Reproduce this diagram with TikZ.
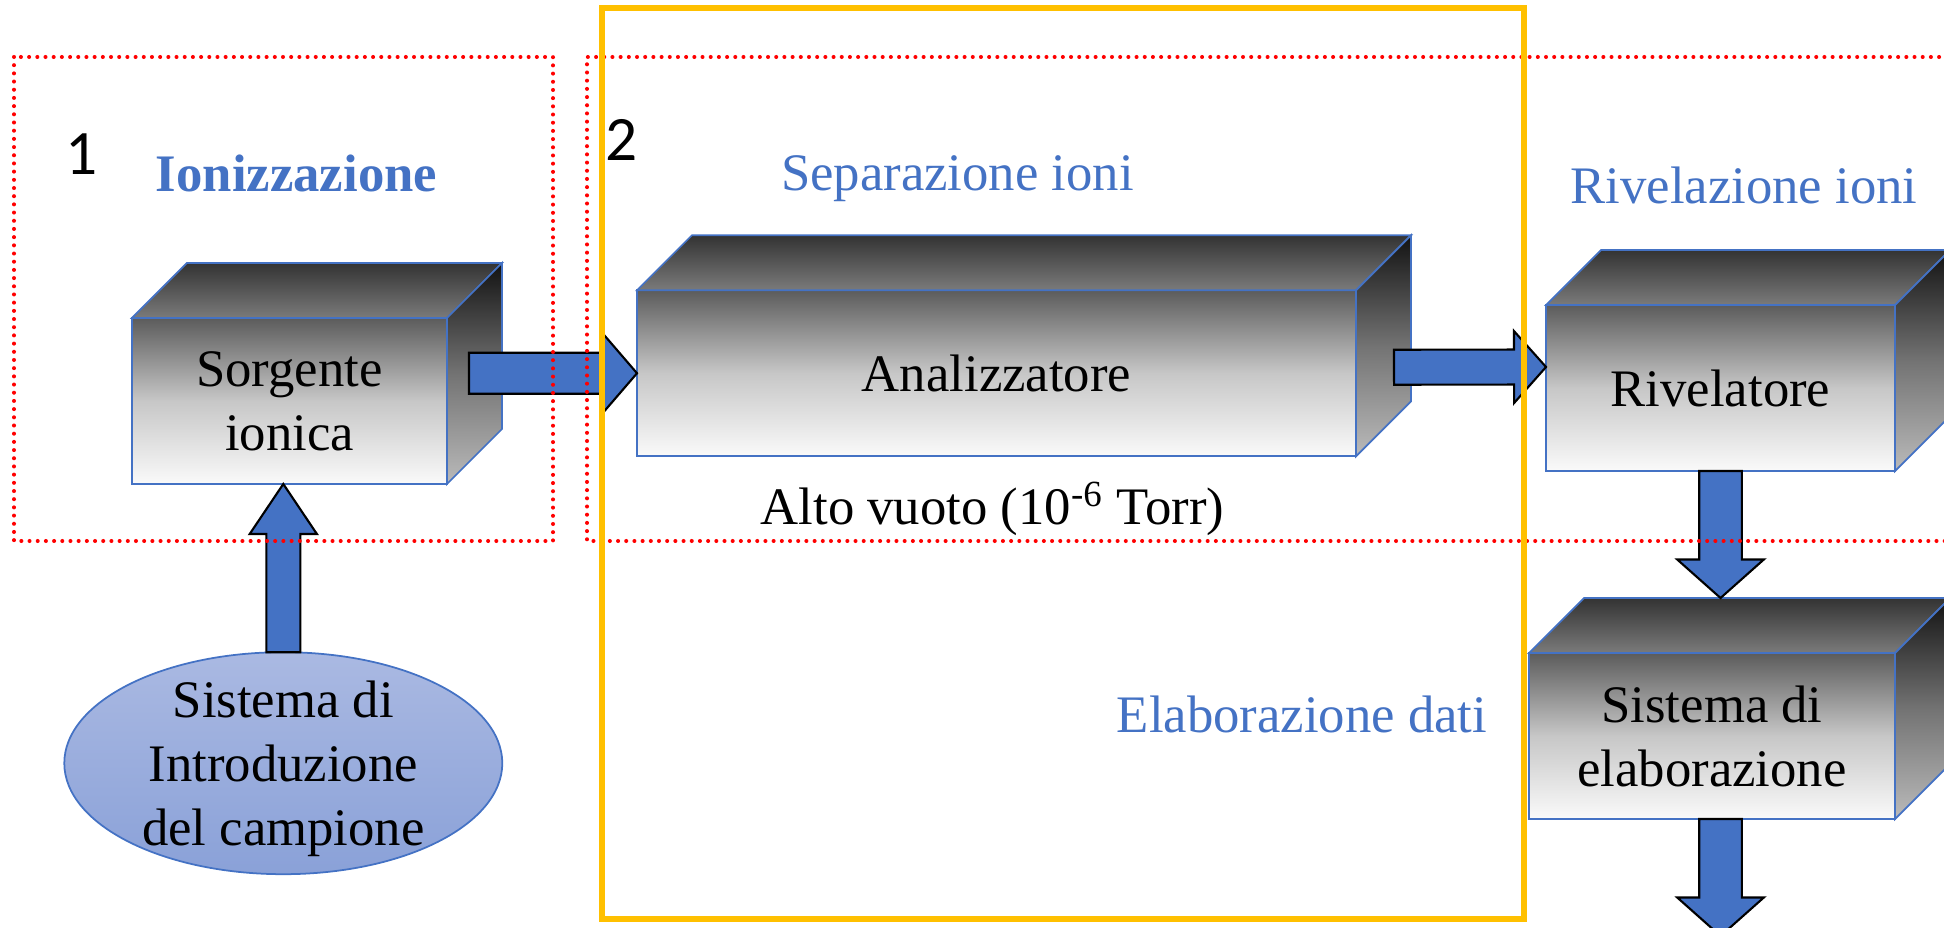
\documentclass[tikz,border=0pt]{standalone}
\usepackage{fontspec}
\setmainfont{Liberation Serif}
\newfontfamily\digitfont{Carlito}
\usepackage{xcolor}
\usepackage{tikz}
\usetikzlibrary{arrows.meta, positioning, shapes.geometric, calc}

\definecolor{boxline}{HTML}{4472C4}
\definecolor{accentblue}{HTML}{4472C4}
\definecolor{frameyellow}{HTML}{FFC000}
\definecolor{introtop}{HTML}{AAB9E2}
\definecolor{introbot}{HTML}{8AA1D8}

% block arrow: name, from, to, shaft half-width, head half-width, head length
\newcommand{\fatarrow}[6]{%
  \coordinate (#1-s) at (#2);
  \coordinate (#1-t) at (#3);
  \coordinate (#1-h) at ($(#1-t)!#6!(#1-s)$);
  \draw[fatarrow]
    ($(#1-s)!#4!90:(#1-t)$) -- ($(#1-h)!#4!90:(#1-t)$) -- ($(#1-h)!#5!90:(#1-t)$)
    -- (#1-t)
    -- ($(#1-h)!#5!-90:(#1-t)$) -- ($(#1-h)!#4!-90:(#1-t)$) -- ($(#1-s)!#4!-90:(#1-t)$)
    -- cycle;
}

% top and right faces of a box whose front face is node #1
\newcommand{\boxfaces}[1]{%
  \shadedraw[draw=boxline, line width=0.5pt, top color=black!80, bottom color=black!52]
    (#1.north west) -- ++(0.55,0.55) -- ($(#1.north east)+(0.55,0.55)$)
    -- (#1.north east) -- cycle;
  \shadedraw[draw=boxline, line width=0.5pt, top color=black!93, bottom color=black!27,
      middle color=black!55]
    (#1.north east) -- ++(0.55,0.55) -- ($(#1.south east)+(0.55,0.55)$)
    -- (#1.south east) -- cycle;
}

\begin{document}
\begin{tikzpicture}[font=\fontsize{15}{18.2}\selectfont,
  frontface/.style={draw=boxline, line width=0.5pt, top color=black!64,
    bottom color=black!2, middle color=black!22, minimum height=1.66cm,
    inner sep=0pt, outer sep=0pt, align=center},
  intro/.style={ellipse, draw=boxline, line width=0.5pt, top color=introtop,
    bottom color=introbot, minimum width=4.38cm, minimum height=2.22cm,
    inner xsep=0pt, inner ysep=-0.4cm, outer sep=0pt, text depth=0pt, align=center},
  title/.style={text=accentblue, inner sep=0pt},
  stagenum/.style={font=\digitfont\fontsize{18}{20}\selectfont, inner sep=0pt},
  fatarrow/.style={fill=accentblue, draw=black, line width=0.6pt, line join=miter},
  zone/.style={red, line width=1.15pt, dash pattern=on 0pt off 2.33pt, line cap=round},
  stage/.style={draw=frameyellow, line width=1.5pt}]

  \useasboundingbox (0,0) rectangle (19.44,-9.28);
  \clip (0,0) rectangle (19.44,-9.28);

  %--- boxes ---
  \node[frontface, minimum width=3.15cm] (sorg) at (2.895,-4.01) {Sorgente\\ionica};
  \boxfaces{sorg}
  \node[frontface, minimum width=7.19cm] (ana) at (9.965,-3.7325) {Analizzatore};
  \boxfaces{ana}
  \node[frontface, minimum width=3.49cm] (riv) at (17.205,-3.88) {Rivelatore};
  \boxfaces{riv}
  \node[frontface, minimum width=3.66cm] (sist) at (17.12,-7.36) {Sistema di\\elaborazione};
  \boxfaces{sist}

  % sample inlet
  \node[intro] (intro) at (2.833,-7.632) {Sistema di\\Introduzione\\del campione};

  %--- arrows ---
  \fatarrow{a1}{$(sorg.east |- ana.west)+(0.22,0)$}{ana.west}{2.05mm}{3.95mm}{3.4mm}
  \fatarrow{a2}{$(ana.east)+(0.38,0.06)$}{$(riv.west)+(0,0.21)$}{1.75mm}{3.6mm}{3.2mm}
  \fatarrow{a3}{riv.south}{$(riv.south |- sist.north)+(0,0.55)$}{2.13mm}{4.33mm}{3.85mm}
  \coordinate (dataout) at (17.205,-9.36);
  \fatarrow{a4}{sist.south -| riv.south}{dataout}{2.13mm}{4.33mm}{3.85mm}
  \fatarrow{a5}{intro.north}{intro.north |- sorg.south}{1.7mm}{3.36mm}{5.0mm}

  %--- labels ---
  \node[stagenum, anchor=base] (n1) at (0.82,-1.75) {1};
  \node[stagenum, anchor=base] (n2) at (6.22,-1.61) {2};
  \node[title, anchor=base] (ioniz) at (2.965,-1.92) {\bfseries Ionizzazione};
  \node[title, anchor=base] (separ) at (9.575,-1.91) {Separazione ioni};
  \node[title, anchor=base] (rivel) at (17.44,-2.036) {Rivelazione ioni};
  \node[title, anchor=base] (elab) at (13.02,-7.33) {Elaborazione dati};
  \node[anchor=base, inner sep=0pt] (vuoto) at (9.925,-5.25) {Alto vuoto (10\textsuperscript{-6} Torr)};

  %--- zones ---
  \draw[zone] (0.14,-0.57) rectangle (5.53,-5.41);
  \draw[zone] (19.8,-0.57) -- (5.87,-0.57) -- (5.87,-5.41) -- (19.8,-5.41);
  \draw[stage] (6.02,-0.08) rectangle (15.24,-9.19);
\end{tikzpicture}
\end{document}
